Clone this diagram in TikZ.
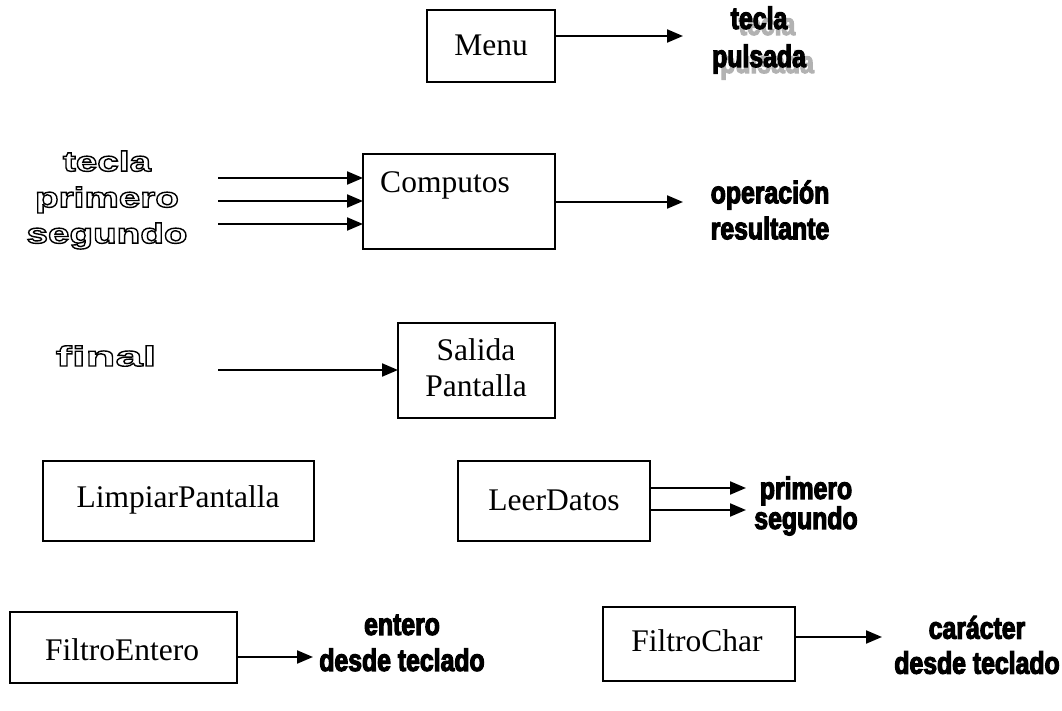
\documentclass[tikz,border=0pt]{standalone}
\usepackage{fontspec}
\setmainfont{Liberation Serif}
\newfontfamily\narrowb[FakeStretch=0.8]{Liberation Sans}
\newfontfamily\widef[FakeStretch=1.38]{Liberation Sans}
\newfontfamily\widefB[FakeStretch=1.75]{Liberation Sans}
\usetikzlibrary{arrows.meta}
\newcommand\fsfill{\special{pdf:literal direct 2 Tr 1.1 w}}
\newcommand\fshollow{\special{pdf:literal direct 1 Tr 1.4 w}}
\begin{document}
\begin{tikzpicture}[x=1pt,y=-1pt,
  box/.style={draw, line width=1.9pt, anchor=north west, inner sep=0pt, outer sep=0pt},
  serif/.style={font=\fontsize{31.5}{36}\selectfont, align=center, inner sep=0pt},
  arr/.style={line width=2.1pt, -{Triangle[length=16pt,width=13pt]}},
  wa/.style={font=\narrowb\bfseries\fontsize{31}{#1}\selectfont\fsfill, align=center, inner sep=0pt},
  wide/.style={font=\widef\bfseries\fontsize{28}{#1}\selectfont\fshollow, align=center, inner sep=0pt},
  wideB/.style={font=\widefB\bfseries\fontsize{28}{#1}\selectfont\fshollow, align=center, inner sep=0pt},
  shadow/.style={wa=#1, text=black!30}]
\useasboundingbox (0,0) rectangle (1062,711);

% Menu
\node[box, minimum width=128pt, minimum height=72pt] (menu) at (427,10) {};
\node[serif] (menuT) at (491,45) {Menu};
\coordinate (menuO) at (683,36);
\draw[arr] (menu.east |- menuO) -- (menuO);
\node[shadow=38pt] (teclaS) at (767,46) {tecla\\pulsada};
\node[wa=38pt] (tecla) at (759,40) {tecla\\pulsada};

% Computos
\node[box, minimum width=192pt, minimum height=95pt] (comp) at (363,154) {};
\node[serif] (compT) at (445,185) {Computos};
\coordinate (in1) at (218,178);
\coordinate (in2) at (218,201);
\coordinate (in3) at (218,224);
\draw[arr] (in1) -- (in1 -| comp.west);
\draw[arr] (in2) -- (in2 -| comp.west);
\draw[arr] (in3) -- (in3 -| comp.west);
\node[wide=36pt] (inL) at (107,200) {tecla\\primero\\segundo};
\coordinate (compO) at (683,202);
\draw[arr] (comp.east |- compO) -- (compO);
\node[wa=36pt] (opL) at (770,210) {operación\\resultante};

% Salida
\node[box, minimum width=157pt, minimum height=95pt] (sal) at (398,323) {};
\node[serif] (salT) at (476,368) {Salida\\Pantalla};
\coordinate (finIn) at (218,370);
\draw[arr] (finIn) -- (finIn -| sal.west);
\node[wideB=35pt] (finL) at (106,356) {final};

% LimpiarPantalla
\node[box, minimum width=271pt, minimum height=80pt] (limp) at (43,461) {};
\node[serif] (limpT) at (178,500) {LimpiarPantalla};

% LeerDatos
\node[box, minimum width=192pt, minimum height=80pt] (leer) at (458,461) {};
\node[serif] (leerT) at (554,500) {LeerDatos};
\coordinate (leO1) at (746,488);
\coordinate (leO2) at (746,510);
\draw[arr] (leer.east |- leO1) -- (leO1);
\draw[arr] (leer.east |- leO2) -- (leO2);
\node[wa=30pt] (leL) at (806,506) {primero\\segundo};

% FiltroEntero
\node[box, minimum width=227pt, minimum height=71pt] (fe) at (10,612) {};
\node[serif] (feT) at (122,650) {FiltroEntero};
\coordinate (feO) at (313,657);
\draw[arr] (fe.east |- feO) -- (feO);
\node[wa=36pt] (feL) at (402,643) {entero\\desde teclado};

% FiltroChar
\node[box, minimum width=192pt, minimum height=74pt] (fc) at (603,607) {};
\node[serif] (fcT) at (697,641) {FiltroChar};
\coordinate (fcO) at (882,637);
\draw[arr] (fc.east |- fcO) -- (fcO);
\node[wa=35pt] (fcL) at (977,645) {carácter\\desde teclado};
\end{tikzpicture}
\end{document}
